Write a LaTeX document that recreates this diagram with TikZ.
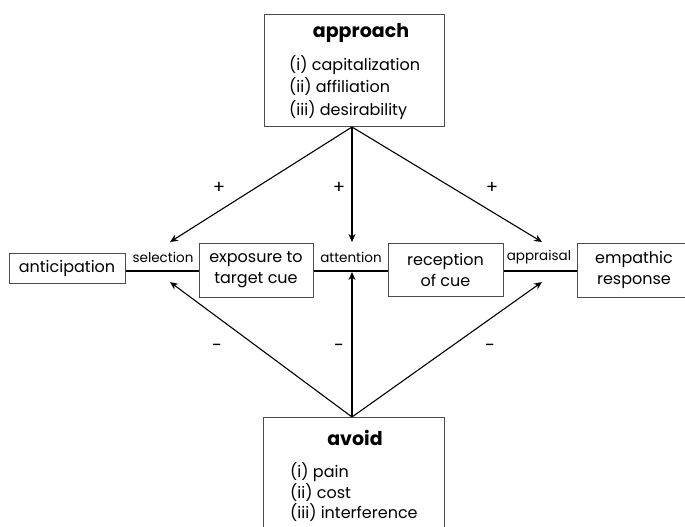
\documentclass[tikz,border=0pt]{standalone}
\usepackage{fontspec}
\setmainfont{Poppins}
\usetikzlibrary{arrows.meta}
\begin{document}
\begin{tikzpicture}[x=1pt,y=-1pt,
  box/.style={draw=black!70,line width=0.7pt,fill=white,inner sep=0pt,align=center,font=\fontsize{16}{21}\selectfont},
  link/.style={line width=1.1pt,-{Stealth[length=8pt,width=7pt]}},
  stage/.style={font=\fontsize{13.5}{15}\selectfont,inner sep=1pt},
  sign/.style={font=\fontsize{18}{20}\selectfont},
  title/.style={font=\bfseries\fontsize{19}{22}\selectfont},
  item/.style={font=\fontsize{16}{18}\selectfont,anchor=west,inner sep=0pt}]
\useasboundingbox (0,0) rectangle (685,527);

% motive boxes
\node[box,minimum width=180pt,minimum height=112pt] (approach) at (354,70) {};
\node[title] (approachT) at (361,33) {approach};
\node[item] (approach1) at (289,65) {(i) capitalization};
\node[item] (approach2) at (289,87) {(ii) affiliation};
\node[item] (approach3) at (289,110) {(iii) desirability};

\node[box,minimum width=181pt,minimum height=130pt] (avoid) at (353.5,482) {};
\node[title] (avoidT) at (355,438) {avoid};
\node[item] (avoid1) at (290,472) {(i) pain};
\node[item] (avoid2) at (290,493) {(ii) cost};
\node[item] (avoid3) at (290,513) {(iii) interference};

% process chain
\coordinate (chainL) at (125,271);
\coordinate (chainR) at (577,271);
\draw[line width=1.2pt] (chainL) -- (chainR);

\node[box,minimum width=116pt,minimum height=30pt] (anticipation) at (67,268) {anticipation};
\node[box,minimum width=114pt,minimum height=54pt] (exposure) at (256,270) {exposure to\\target cue};
\node[box,minimum width=115pt,minimum height=53pt] (reception) at (445.5,269.5) {reception\\of cue};
\node[box,minimum width=130pt,minimum height=54pt,text width=115pt] (empathic) at (642,270) {\hspace*{-16pt}empathic\\\hspace*{-16pt}response};

\node[stage] (selection) at (163,257) {selection};
\node[stage] (attention) at (351,257) {attention};
\node[stage] (appraisal) at (539,257) {appraisal};

% influence arrows
\coordinate (topApex) at (352,127);
\coordinate (botApex) at (352,417);
\coordinate (selUp) at (170,242);
\coordinate (attUp) at (352,242);
\coordinate (appUp) at (542,242);
\coordinate (selDn) at (170,282);
\coordinate (attDn) at (352,272);
\coordinate (appDn) at (542,282);

\draw[link] (topApex) -- (selUp);
\draw[link] (topApex) -- (attUp);
\draw[link] (topApex) -- (appUp);
\draw[link] (botApex) -- (selDn);
\draw[link] (botApex) -- (attDn);
\draw[link] (botApex) -- (appDn);

\node[sign] (p1) at (219,188) {+};
\node[sign] (p2) at (339,188) {+};
\node[sign] (p3) at (492,188) {+};
\node[sign] (m1) at (217,348) {-};
\node[sign] (m2) at (339,348) {-};
\node[sign] (m3) at (490,348) {-};
\end{tikzpicture}
\end{document}
